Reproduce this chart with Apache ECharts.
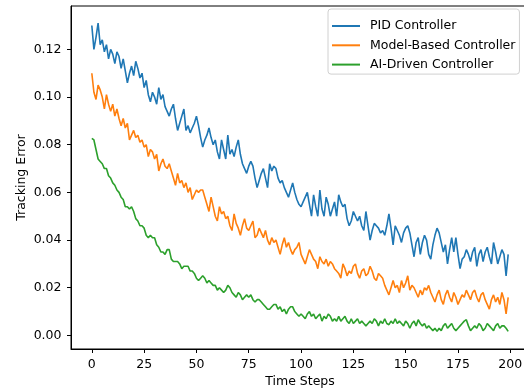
<!DOCTYPE html>
<html>
<head>
<meta charset="utf-8">
<script src="https://cdn.jsdelivr.net/npm/echarts@6/dist/echarts.min.js"></script>
<style>html,body{margin:0;padding:0;background:#fff;}#c{width:524px;height:390px;}</style>
</head>
<body>
<div id="c"></div>
<script>
const steps = Array.from({length: 200}, (_, i) => i);
const xTicks = [0, 25, 50, 75, 100, 125, 150, 175, 200];
const yTicks = [0, 0.02, 0.04, 0.06, 0.08, 0.10, 0.12];
const seriesNames = ['PID Controller', 'Model-Based Controller', 'AI-Driven Controller'];

const pid = [
0.130,0.120,0.125,0.131,0.122,0.124,0.119,0.122,0.116,0.120,
0.118,0.114,0.119,0.117,0.112,0.116,0.111,0.106,0.110,0.113,
0.109,0.115,0.112,0.108,0.110,0.104,0.107,0.101,0.098,0.102,
0.100,0.097,0.104,0.099,0.101,0.096,0.094,0.092,0.095,0.097,
0.091,0.086,0.089,0.092,0.095,0.086,0.088,0.085,0.087,0.089,
0.092,0.088,0.083,0.079,0.082,0.084,0.087,0.083,0.080,0.082,
0.077,0.074,0.082,0.078,0.074,0.084,0.076,0.078,0.075,0.079,
0.082,0.076,0.072,0.070,0.068,0.071,0.073,0.071,0.066,0.062,
0.065,0.068,0.070,0.066,0.062,0.072,0.069,0.071,0.070,0.066,
0.064,0.065,0.062,0.060,0.058,0.061,0.064,0.060,0.057,0.055,
0.054,0.056,0.058,0.060,0.055,0.050,0.059,0.054,0.050,0.061,
0.053,0.050,0.058,0.055,0.050,0.053,0.056,0.050,0.059,0.056,
0.054,0.055,0.049,0.046,0.048,0.052,0.050,0.048,0.050,0.046,
0.044,0.052,0.046,0.040,0.044,0.047,0.046,0.045,0.043,0.044,
0.042,0.046,0.051,0.045,0.038,0.046,0.044,0.042,0.039,0.043,
0.045,0.046,0.043,0.038,0.033,0.039,0.041,0.034,0.039,0.042,
0.040,0.034,0.032,0.038,0.042,0.045,0.043,0.039,0.035,0.038,
0.030,0.036,0.041,0.035,0.041,0.034,0.028,0.032,0.033,0.036,
0.034,0.031,0.035,0.037,0.029,0.034,0.036,0.031,0.035,0.037,
0.033,0.030,0.039,0.035,0.030,0.033,0.036,0.034,0.025,0.034
];

const modelBased = [
0.110,0.102,0.099,0.105,0.103,0.100,0.095,0.101,0.097,0.094,
0.097,0.092,0.095,0.091,0.088,0.091,0.087,0.089,0.082,0.084,
0.086,0.083,0.084,0.081,0.082,0.079,0.080,0.075,0.078,0.077,
0.074,0.076,0.069,0.072,0.074,0.071,0.070,0.072,0.069,0.066,
0.063,0.068,0.064,0.065,0.062,0.064,0.060,0.062,0.057,0.059,
0.061,0.060,0.061,0.061,0.058,0.055,0.052,0.058,0.054,0.050,
0.048,0.054,0.051,0.052,0.049,0.050,0.046,0.044,0.051,0.047,
0.045,0.042,0.046,0.049,0.045,0.044,0.046,0.048,0.041,0.042,
0.045,0.043,0.041,0.044,0.040,0.038,0.041,0.039,0.040,0.037,
0.034,0.038,0.041,0.037,0.039,0.036,0.034,0.036,0.037,0.039,
0.034,0.032,0.030,0.033,0.036,0.034,0.032,0.031,0.028,0.033,
0.031,0.030,0.032,0.029,0.031,0.030,0.028,0.027,0.026,0.024,
0.030,0.028,0.025,0.027,0.026,0.029,0.030,0.026,0.024,0.027,
0.028,0.025,0.026,0.029,0.027,0.024,0.023,0.026,0.025,0.024,
0.021,0.019,0.017,0.020,0.023,0.020,0.021,0.018,0.023,0.020,
0.022,0.025,0.019,0.021,0.020,0.018,0.016,0.019,0.017,0.020,
0.019,0.021,0.018,0.016,0.014,0.017,0.019,0.015,0.013,0.017,
0.019,0.016,0.014,0.018,0.016,0.013,0.015,0.017,0.016,0.019,
0.017,0.015,0.018,0.019,0.016,0.014,0.017,0.018,0.015,0.013,
0.011,0.015,0.017,0.014,0.016,0.013,0.018,0.015,0.009,0.016
];

const aiDriven = [
0.0827,0.082,0.078,0.074,0.073,0.072,0.070,0.070,0.067,0.066,
0.064,0.063,0.061,0.060,0.058,0.057,0.054,0.054,0.053,0.054,
0.052,0.049,0.048,0.046,0.046,0.045,0.042,0.041,0.042,0.041,
0.041,0.038,0.037,0.035,0.035,0.034,0.036,0.036,0.032,0.031,
0.031,0.031,0.030,0.028,0.029,0.029,0.029,0.027,0.027,0.026,
0.024,0.023,0.024,0.025,0.024,0.022,0.023,0.022,0.021,0.021,
0.019,0.020,0.019,0.018,0.019,0.021,0.020,0.018,0.017,0.016,
0.018,0.017,0.015,0.016,0.017,0.016,0.017,0.015,0.014,0.015,
0.015,0.014,0.013,0.012,0.011,0.011,0.012,0.013,0.013,0.011,
0.012,0.010,0.011,0.009,0.011,0.012,0.012,0.010,0.009,0.008,
0.009,0.008,0.007,0.009,0.010,0.008,0.009,0.007,0.008,0.009,
0.006,0.008,0.007,0.009,0.008,0.006,0.007,0.006,0.008,0.006,
0.007,0.008,0.006,0.005,0.007,0.005,0.006,0.007,0.005,0.006,
0.005,0.004,0.005,0.006,0.005,0.007,0.006,0.004,0.006,0.005,
0.007,0.005,0.0045,0.006,0.005,0.007,0.005,0.006,0.005,0.004,
0.006,0.005,0.003,0.005,0.006,0.004,0.0066,0.005,0.004,0.005,
0.003,0.004,0.003,0.002,0.003,0.0017,0.003,0.002,0.004,0.005,
0.003,0.004,0.005,0.003,0.002,0.003,0.004,0.005,0.006,0.0066,
0.004,0.002,0.003,0.004,0.003,0.005,0.004,0.002,0.003,0.005,
0.004,0.003,0.002,0.004,0.005,0.003,0.004,0.004,0.003,0.0017
];

const colors = ['#1f77b4', '#ff7f0e', '#2ca02c'];
const allData = [pid, modelBased, aiDriven];
const font = 'DejaVu Sans';
const fs = 12.5;

const chart = echarts.init(document.getElementById('c'), null, {renderer: 'canvas'});
chart.setOption({
  animation: false,
  backgroundColor: '#fff',
  textStyle: {fontFamily: font},
  grid: {left: 71, top: 6, width: 458, height: 343, show: true, borderColor: '#000', borderWidth: 1, backgroundColor: '#fff', containLabel: false, outerBoundsMode: 'none'},
  legend: {
    orient: 'vertical', left: 328, top: 9, itemWidth: 28, itemHeight: 2, icon: 'rect', itemGap: 4.3,
    padding: [9.5, 4, 2, 4], borderColor: '#d0d0d0', borderWidth: 1, borderRadius: 3, backgroundColor: 'rgba(255,255,255,0.8)',
    textStyle: {fontFamily: font, fontSize: fs, color: '#000', padding: [0, 0, 0, 5], lineHeight: 15},
    data: seriesNames
  },
  xAxis: {
    type: 'value', min: -9.95, max: 208.95,
    name: 'Time Steps', nameLocation: 'middle', nameGap: 26.5, nameMoveOverlap: false,
    nameTextStyle: {fontFamily: font, fontSize: fs, color: '#000'},
    axisLine: {show: true, onZero: false, lineStyle: {color: '#000', width: 1}},
    axisTick: {show: true, inside: false, length: 4, lineStyle: {color: '#000'}, customValues: xTicks},
    axisLabel: {show: true, margin: 9, fontFamily: font, fontSize: fs, color: '#000', customValues: xTicks, formatter: v => String(v)},
    splitLine: {show: false}
  },
  yAxis: {
    type: 'value', min: -0.0057, max: 0.1382,
    name: 'Tracking Error', nameLocation: 'middle', nameGap: 43, nameRotate: 90, nameMoveOverlap: false,
    nameTextStyle: {fontFamily: font, fontSize: fs, color: '#000'},
    axisLine: {show: true, onZero: false, lineStyle: {color: '#000', width: 1}},
    axisTick: {show: true, inside: false, length: 4, lineStyle: {color: '#000'}, customValues: yTicks},
    axisLabel: {show: true, margin: 9.5, fontFamily: font, fontSize: fs, color: '#000', customValues: yTicks, formatter: v => v.toFixed(2)},
    splitLine: {show: false}
  },
  series: seriesNames.map((n, k) => ({
    name: n, type: 'line', data: steps.map((s, i) => [s, allData[k][i]]),
    showSymbol: false, symbol: 'none', lineStyle: {color: colors[k], width: 1.6}, itemStyle: {color: colors[k]}
  }))
});
</script>
</body>
</html>
